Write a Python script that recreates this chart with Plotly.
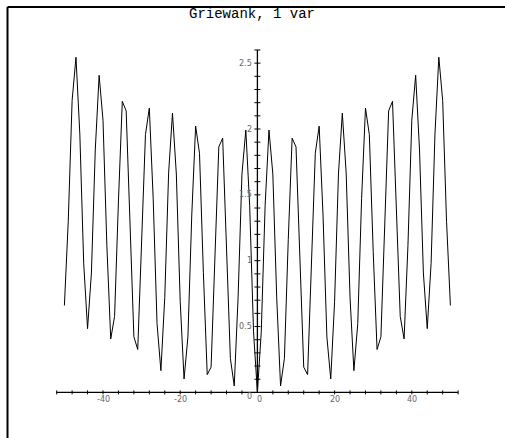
import plotly.graph_objects as go

# ---- data ----
x_vals = [-50, -49, -48, -47, -46, -45, -44, -43, -42, -41,
          -40, -39, -38, -37, -36, -35, -34, -33, -32, -31,
          -30, -29, -28, -27, -26, -25, -24, -23, -22, -21,
          -20, -19, -18, -17, -16, -15, -14, -13, -12, -11,
          -10, -9, -8, -7, -6, -5, -4, -3, -2, -1,
          0, 1, 2, 3, 4, 5, 6, 7, 8, 9,
          10, 11, 12, 13, 14, 15, 16, 17, 18, 19,
          20, 21, 22, 23, 24, 25, 26, 27, 28, 29,
          30, 31, 32, 33, 34, 35, 36, 37, 38, 39,
          40, 41, 42, 43, 44, 45, 46, 47, 48, 49, 50]
y_vals = [0.660, 1.300, 2.216, 2.545, 1.961, 0.981, 0.484, 0.907, 1.841, 2.408,
          2.067, 1.114, 0.406, 0.577, 1.452, 2.210, 2.138, 1.286, 0.422, 0.326,
          1.071, 1.958, 2.159, 1.474, 0.522, 0.165, 0.720, 1.665, 2.121, 1.658,
          0.692, 0.102, 0.421, 1.347, 2.022, 1.816, 0.912, 0.135, 0.192, 1.026,
          1.864, 1.931, 1.162, 0.258, 0.049, 0.723, 1.658, 1.992, 1.417, 0.460,
          0.000,
          0.460, 1.417, 1.992, 1.658, 0.723, 0.049, 0.258, 1.162, 1.931,
          1.864, 1.026, 0.192, 0.135, 0.912, 1.816, 2.022, 1.347, 0.421, 0.102,
          0.692, 1.658, 2.121, 1.665, 0.720, 0.165, 0.522, 1.474, 2.159, 1.958,
          1.071, 0.326, 0.422, 1.286, 2.138, 2.210, 1.452, 0.577, 0.406, 1.114,
          2.067, 2.408, 1.841, 0.907, 0.484, 0.981, 1.961, 2.545, 2.216, 1.300,
          0.660]

x_axis_extent = [-52, 52]
y_axis_extent = [0, 2.6]
x_minor_ticks = [-52, -48, -44, -40, -36, -32, -28, -24, -20, -16, -12, -8, -4,
                 4, 8, 12, 16, 20, 24, 28, 32, 36, 40, 44, 48, 52]
x_label_ticks = [-40, -20, 0, 20, 40]
x_labels = ["-40", "-20", "0", "20", "40"]
y_minor_ticks = [0.1, 0.2, 0.3, 0.4, 0.5, 0.6, 0.7, 0.8, 0.9, 1.0,
                 1.1, 1.2, 1.3, 1.4, 1.5, 1.6, 1.7, 1.8, 1.9, 2.0,
                 2.1, 2.2, 2.3, 2.4, 2.5, 2.6]
y_label_ticks = [0.5, 1.0, 1.5, 2.0, 2.5]
y_labels = ["0.5", "1", "1.5", "2", "2.5"]
title_text = "Griewank, 1 var"

W, H = 505, 438
fig = go.Figure()
fig.add_trace(go.Scatter(x=x_vals, y=y_vals, mode="lines",
                         line=dict(color="black", width=1),
                         hoverinfo="skip", showlegend=False))

shapes = []
# axis lines through the origin
shapes.append(dict(type="line", xref="x", yref="y",
                   x0=x_axis_extent[0], x1=x_axis_extent[1], y0=0, y1=0,
                   line=dict(color="black", width=1.3)))
shapes.append(dict(type="line", xref="x", yref="y",
                   x0=0, x1=0, y0=y_axis_extent[0], y1=y_axis_extent[1],
                   line=dict(color="black", width=1.3)))
# x ticks (crossing the axis)
for t in x_minor_ticks:
    shapes.append(dict(type="line", xref="x", yref="y", ysizemode="pixel", yanchor=0,
                       x0=t, x1=t, y0=-2, y1=2,
                       line=dict(color="black", width=1)))
# y ticks (crossing the axis)
for t in y_minor_ticks:
    shapes.append(dict(type="line", xref="x", yref="y", xsizemode="pixel", xanchor=0,
                       x0=-3, x1=3, y0=t, y1=t,
                       line=dict(color="black", width=1)))
# frame lines (top and left)
shapes.append(dict(type="line", xref="paper", yref="paper",
                   x0=7.5 / W, x1=1, y0=1 - 7 / H, y1=1 - 7 / H,
                   line=dict(color="black", width=2)))
shapes.append(dict(type="line", xref="paper", yref="paper",
                   x0=7.5 / W, x1=7.5 / W, y0=0, y1=1 - 7 / H,
                   line=dict(color="black", width=2)))

tick_font = dict(family="DejaVu Sans", size=8, color="#666666")
annotations = []
for t, lab in zip(x_label_ticks, x_labels):
    annotations.append(dict(x=t, y=0, xref="x", yref="y", text=lab, showarrow=False,
                            xanchor="center", yanchor="middle", yshift=-7,
                            xshift=2 if t == 0 else 0, font=tick_font))
for t, lab in zip(y_label_ticks, y_labels):
    annotations.append(dict(x=0, y=t, xref="x", yref="y", text=lab, showarrow=False,
                            xanchor="right", yanchor="middle", xshift=-3, font=tick_font))
annotations.append(dict(x=0, y=0, xref="x", yref="y", text="0", showarrow=False,
                        xanchor="right", yanchor="middle", xshift=-3, yshift=-4,
                        font=tick_font))
annotations.append(dict(x=251.5 / W, y=1 - 14 / H, xref="paper", yref="paper",
                        text=title_text, showarrow=False, xanchor="center", yanchor="middle",
                        font=dict(family="Liberation Mono", size=14, color="black")))

x0px, xscale = 257.4, 3.86
y0px, yscale = 392.4, 131.7
fig.update_layout(
    width=W, height=H, autosize=False,
    margin=dict(l=0, r=0, t=0, b=0),
    paper_bgcolor="white", plot_bgcolor="white",
    xaxis=dict(visible=False, range=[-x0px / xscale, (W - x0px) / xscale], fixedrange=True),
    yaxis=dict(visible=False, range=[-(H - y0px) / yscale, y0px / yscale], fixedrange=True),
    shapes=shapes, annotations=annotations, showlegend=False,
)
fig.write_html(
    "out.html",
    config={"displayModeBar": False},
    post_script="document.body.style.margin='0';document.body.style.padding='0';"
                "document.body.style.overflow='hidden';",
)
